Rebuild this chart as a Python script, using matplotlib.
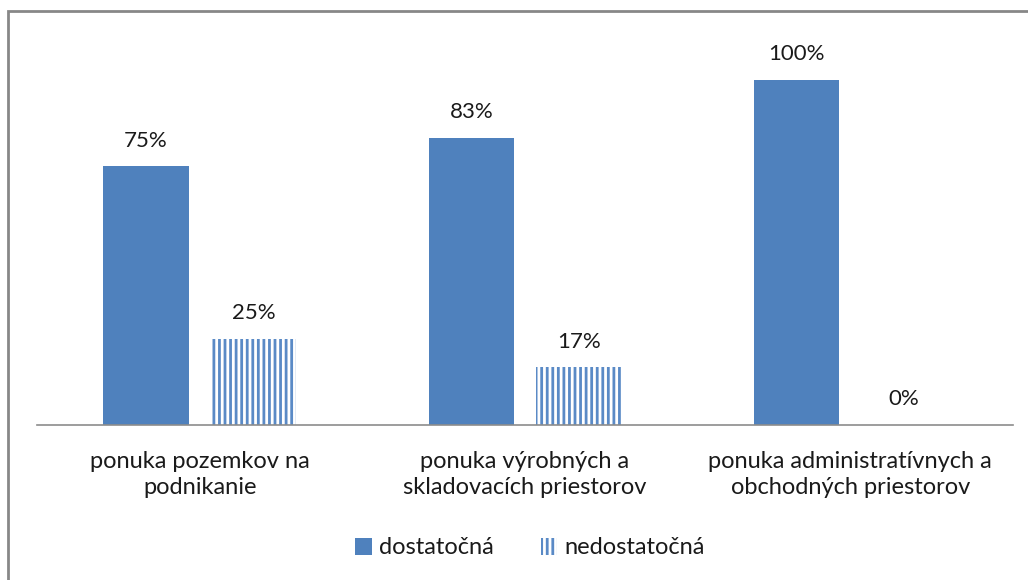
import matplotlib.pyplot as plt
from matplotlib.patches import Rectangle
import numpy as np

plt.rcParams['font.family'] = ['Lato', 'DejaVu Sans']
plt.rcParams['hatch.linewidth'] = 2.0

categories = ['ponuka pozemkov na\npodnikanie',
              'ponuka výrobných a\nskladovacích priestorov',
              'ponuka administratívnych a\nobchodných priestorov']
dostatocna = [0.75, 0.8333, 1.00]
nedostatocna = [0.25, 0.1667, 0.00]
series_names = ['dostatočná', 'nedostatočná']

W, H = 1028, 580
fig = plt.figure(figsize=(W / 100, H / 100), dpi=100)
ax = fig.add_axes([37 / W, 1 - 425 / H, 976 / W, 414 / H])

x = np.arange(len(categories))
bw = 0.263
off = 0.165
b1 = ax.bar(x - off, dostatocna, bw, color='#4F81BD', label=series_names[0])
b2 = ax.bar(x + off, nedostatocna, bw, facecolor='white', edgecolor='#5A8AC6',
            linewidth=0, hatch='|||', label=series_names[1])

# popisky hodnot nad stlpcami
for rects, vals in ((b1, dostatocna), (b2, nedostatocna)):
    for r, v in zip(rects, vals):
        ax.text(r.get_x() + r.get_width() / 2, v + 0.045, '{:.0%}'.format(v),
                ha='center', va='bottom', fontsize=16, color='#1a1a1a')

ax.set_xlim(-0.5, 2.5)
ax.set_ylim(0, 1.2)
ax.set_yticks([])
ax.set_xticks(x)
ax.set_xticklabels(categories, fontsize=17, color='#1a1a1a', linespacing=1.25)
ax.tick_params(axis='x', length=0, pad=19)
for s in ['top', 'right', 'left']:
    ax.spines[s].set_visible(False)
ax.spines['bottom'].set_color('#8c8c8c')
ax.spines['bottom'].set_linewidth(1.2)

fig.legend(loc='center', bbox_to_anchor=(530 / W, 1 - 548 / H), ncol=2,
           frameon=False, fontsize=17, handlelength=0.7, handleheight=0.7,
           columnspacing=2.0, handletextpad=0.3, labelcolor='#1a1a1a')

# ramik grafu
fig.patches.append(Rectangle((8 / W, -0.1), 1.2, 1 - 11 / H + 0.1,
                             transform=fig.transFigure, fill=False,
                             edgecolor='#878787', linewidth=2))

fig.savefig('out.png', dpi=100)
